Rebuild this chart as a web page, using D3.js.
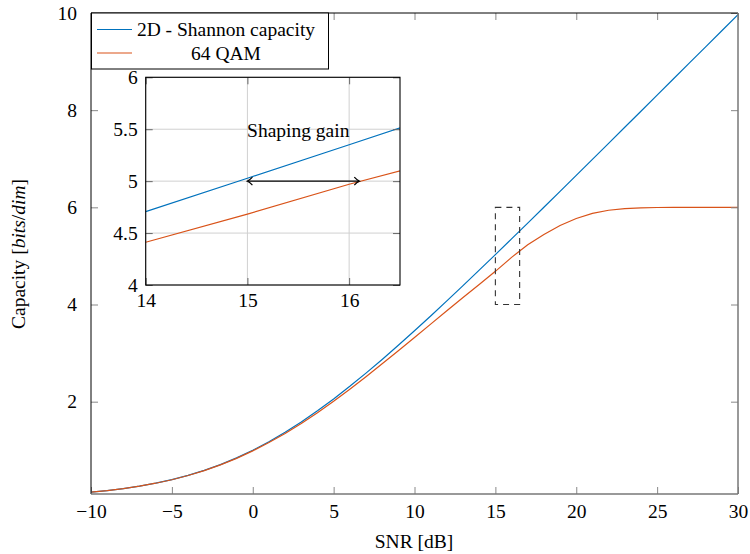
<!DOCTYPE html>
<html>
<head>
<meta charset="utf-8">
<script src="https://cdn.jsdelivr.net/npm/d3@7/dist/d3.min.js"></script>
<style>
  html, body { margin: 0; padding: 0; background: #fff; }
  svg { display: block; }
  text { font-family: "Liberation Serif", "Times New Roman", "DejaVu Serif", serif; fill: #000; }
</style>
</head>
<body>
<svg id="chart" width="750" height="554"></svg>
<script>
// ---- data ----
const snrDb = [-10,-9,-8,-7,-6,-5,-4,-3,-2,-1,0,1,2,3,4,5,6,7,8,9,10,11,12,13,14,15,16,17,18,19,20,21,22,23,24,25,26,27,28,29,30];
const shannon = [0.1375,0.1710,0.2122,0.2625,0.3234,0.3964,0.4835,0.5861,0.7057,0.8434,1.0000,1.1756,1.3701,1.5827,1.8122,2.0574,2.3165,2.5878,2.8698,3.1608,3.4594,3.7644,4.0746,4.3891,4.7070,5.0278,5.3509,5.6757,6.0022,6.3298,6.6582,6.9874,7.3173,7.6477,7.9784,8.3094,8.6406,8.9721,9.3037,9.6354,9.9672];
const qam64 = [0.137,0.170,0.211,0.261,0.322,0.394,0.480,0.581,0.699,0.834,0.988,1.158,1.347,1.552,1.773,2.008,2.255,2.513,2.779,3.050,3.322,3.597,3.873,4.145,4.412,4.683,4.970,5.230,5.440,5.625,5.770,5.875,5.940,5.975,5.990,5.997,5.999,6.000,6.000,6.000,6.000];
const seriesNames = ["2D - Shannon capacity", "64 QAM"];
const xTicks = [-10,-5,0,5,10,15,20,25,30];
const xTickLabels = ["\u221210","\u22125","0","5","10","15","20","25","30"];
const yTicks = [2,4,6,8,10];
const yTickLabels = ["2","4","6","8","10"];
const insetXTicks = [14,15,16];
const insetXTickLabels = ["14","15","16"];
const insetYTicks = [4,4.5,5,5.5,6];
const insetYTickLabels = ["4","4.5","5","5.5","6"];
const zoomBox = {x0: 15, x1: 16.5, y0: 4, y1: 6};
const gainArrow = {x0: 15, x1: 16.1, y: 5};
const annotation = "Shaping gain";
const annotationPos = {x: 15.5, y: 5.5};

const colors = ["#0072BD", "#D95319"];
const FS = 19.5;

const svg = d3.select("#chart");
const x = d3.scaleLinear().domain([-10, 30]).range([91, 738]);
const y = d3.scaleLinear().domain([0.1, 10]).range([494, 13]);

const defs = svg.append("defs");
defs.append("clipPath").attr("id", "mainClip").append("rect")
  .attr("x", 91).attr("y", 13).attr("width", 647).attr("height", 481);

// main curves
const series = [shannon, qam64];
const gMain = svg.append("g").attr("clip-path", "url(#mainClip)");
series.forEach((vals, i) => {
  const line = d3.line().x((d, j) => x(snrDb[j])).y(d => y(d));
  gMain.append("path").datum(vals).attr("d", line)
    .attr("fill", "none").attr("stroke", colors[i]).attr("stroke-width", 1.2);
});

// dashed zoom box
gMain.append("rect")
  .attr("x", x(zoomBox.x0)).attr("y", y(zoomBox.y1))
  .attr("width", x(zoomBox.x1) - x(zoomBox.x0)).attr("height", y(zoomBox.y0) - y(zoomBox.y1))
  .attr("fill", "none").attr("stroke", "#333").attr("stroke-width", 1.1)
  .attr("stroke-dasharray", "6,5");

// main axes
const tickLen = 7;
function styleAxis(g, col) {
  g.select(".domain").remove();
  g.selectAll(".tick line").attr("stroke", col || "#888").attr("stroke-width", 1);
  g.selectAll(".tick text").attr("font-size", FS);
}
const axB = svg.append("g").attr("transform", "translate(0,494)")
  .call(d3.axisBottom(x).tickValues(xTicks).tickSize(-tickLen).tickPadding(10)
    .tickFormat((d, i) => xTickLabels[i]));
styleAxis(axB);
axB.selectAll(".tick text").attr("dy", "0.71em");
const axT = svg.append("g").attr("transform", "translate(0,13)")
  .call(d3.axisTop(x).tickValues(xTicks).tickSize(-tickLen).tickFormat(""));
styleAxis(axT);
const axL = svg.append("g").attr("transform", "translate(91,0)")
  .call(d3.axisLeft(y).tickValues(yTicks).tickSize(-tickLen).tickPadding(14)
    .tickFormat((d, i) => yTickLabels[i]));
styleAxis(axL);
const axR = svg.append("g").attr("transform", "translate(738,0)")
  .call(d3.axisRight(y).tickValues(yTicks).tickSize(-tickLen).tickFormat(""));
styleAxis(axR);

// frame
svg.append("line").attr("x1", 91).attr("x2", 738).attr("y1", 13).attr("y2", 13).attr("stroke", "#000").attr("stroke-width", 1);
svg.append("line").attr("x1", 91).attr("x2", 91).attr("y1", 13).attr("y2", 494).attr("stroke", "#000").attr("stroke-width", 1);
svg.append("line").attr("x1", 91).attr("x2", 738).attr("y1", 494).attr("y2", 494).attr("stroke", "#777").attr("stroke-width", 1.5);
svg.append("line").attr("x1", 738).attr("x2", 738).attr("y1", 13).attr("y2", 494).attr("stroke", "#777").attr("stroke-width", 1.5);

// axis labels
svg.append("text").attr("x", 414).attr("y", 548).attr("text-anchor", "middle")
  .attr("font-size", FS).text("SNR [dB]");
const yl = svg.append("text").attr("transform", "translate(25,254) rotate(-90)")
  .attr("text-anchor", "middle").attr("font-size", FS);
yl.append("tspan").text("Capacity [");
yl.append("tspan").attr("font-style", "italic").text("bits");
yl.append("tspan").text("/");
yl.append("tspan").attr("font-style", "italic").text("dim");
yl.append("tspan").text("]");

// legend
const lg = svg.append("g");
lg.append("rect").attr("x", 91.5).attr("y", 13).attr("width", 237).attr("height", 56)
  .attr("fill", "#fff").attr("stroke", "#000").attr("stroke-width", 1);
seriesNames.forEach((name, i) => {
  const cy = 29.5 + i * 23.5;
  lg.append("line").attr("x1", 97).attr("x2", 132).attr("y1", cy).attr("y2", cy)
    .attr("stroke", colors[i]).attr("stroke-width", 1.1);
  lg.append("text").attr("x", 226).attr("y", cy + 6.5).attr("text-anchor", "middle")
    .attr("font-size", FS).text(name);
});

// ---- inset ----
const L = 145.7, R = 400, T = 77.3, B = 285;
const xi = d3.scaleLinear().domain([14, 16.5]).range([L, R]);
const yi = d3.scaleLinear().domain([4, 6]).range([B, T]);
defs.append("clipPath").attr("id", "insetClip").append("rect")
  .attr("x", L).attr("y", T).attr("width", R - L).attr("height", B - T);

const gi = svg.append("g");
gi.append("rect").attr("x", L).attr("y", T).attr("width", R - L).attr("height", B - T).attr("fill", "#fff");
// grid
gi.selectAll(".gx").data(insetXTicks).enter().append("line")
  .attr("x1", d => xi(d)).attr("x2", d => xi(d)).attr("y1", T).attr("y2", B)
  .attr("stroke", "#d0d0d0").attr("stroke-width", 1);
gi.selectAll(".gy").data(insetYTicks).enter().append("line")
  .attr("x1", L).attr("x2", R).attr("y1", d => yi(d)).attr("y2", d => yi(d))
  .attr("stroke", "#d0d0d0").attr("stroke-width", 1);

const gic = gi.append("g").attr("clip-path", "url(#insetClip)");
series.forEach((vals, i) => {
  const line = d3.line().x((d, j) => xi(snrDb[j])).y(d => yi(d));
  gic.append("path").datum(vals).attr("d", line)
    .attr("fill", "none").attr("stroke", colors[i]).attr("stroke-width", 1.2);
});

// inset axes
const iB = gi.append("g").attr("transform", `translate(0,${B})`)
  .call(d3.axisBottom(xi).tickValues(insetXTicks).tickSize(-tickLen).tickPadding(8)
    .tickFormat((d, i) => insetXTickLabels[i]));
styleAxis(iB, "#666");
iB.selectAll(".tick text").attr("dy", "0.71em");
const iT = gi.append("g").attr("transform", `translate(0,${T})`)
  .call(d3.axisTop(xi).tickValues(insetXTicks).tickSize(-tickLen).tickFormat(""));
styleAxis(iT, "#666");
const iL = gi.append("g").attr("transform", `translate(${L},0)`)
  .call(d3.axisLeft(yi).tickValues(insetYTicks).tickSize(-tickLen).tickPadding(8)
    .tickFormat((d, i) => insetYTickLabels[i]));
styleAxis(iL, "#666");
const iR = gi.append("g").attr("transform", `translate(${R},0)`)
  .call(d3.axisRight(yi).tickValues(insetYTicks).tickSize(-tickLen).tickFormat(""));
styleAxis(iR, "#666");
gi.append("rect").attr("x", L).attr("y", T).attr("width", R - L).attr("height", B - T)
  .attr("fill", "none").attr("stroke", "#000").attr("stroke-width", 1.1);

// annotation
gi.append("text").attr("x", xi(annotationPos.x)).attr("y", yi(annotationPos.y) + 8)
  .attr("text-anchor", "middle").attr("font-size", FS).text(annotation);

// double arrow
const ax0 = xi(gainArrow.x0), ax1 = xi(gainArrow.x1), ay = yi(gainArrow.y);
gi.append("line").attr("x1", ax0 + 1).attr("x2", ax1 - 1).attr("y1", ay).attr("y2", ay)
  .attr("stroke", "#000").attr("stroke-width", 1.3);
gi.append("path").attr("d", `M${ax0 + 5},${ay - 4} Q${ax0 + 2},${ay - 0.8} ${ax0},${ay} Q${ax0 + 2},${ay + 0.8} ${ax0 + 5},${ay + 4}`)
  .attr("fill", "none").attr("stroke", "#000").attr("stroke-width", 1.2);
gi.append("path").attr("d", `M${ax1 - 5},${ay - 4} Q${ax1 - 2},${ay - 0.8} ${ax1},${ay} Q${ax1 - 2},${ay + 0.8} ${ax1 - 5},${ay + 4}`)
  .attr("fill", "none").attr("stroke", "#000").attr("stroke-width", 1.2);
</script>
</body>
</html>
